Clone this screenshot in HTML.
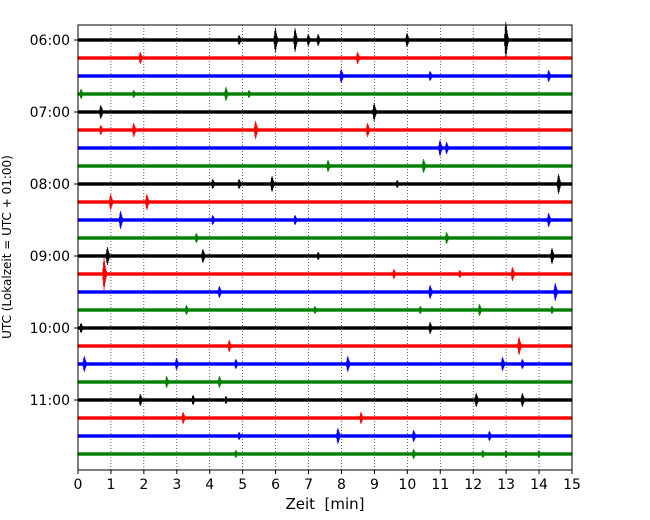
<!DOCTYPE html>
<html><head><meta charset="utf-8"><style>
body{margin:0;background:#fff;}
svg{display:block;font-family:"DejaVu Sans","Liberation Sans",sans-serif;}
</style></head><body>
<svg id="chart" width="650" height="520">
<g id="grid"></g>
<g id="traces"></g>
<rect x="78" y="25" width="494" height="445" fill="none" stroke="#000" stroke-width="1"/>
<g id="xticks"></g>
<g id="yticks"></g>
<text x="325" y="509" font-size="15" text-anchor="middle" style="white-space:pre">Zeit  [min]</text>
<text transform="translate(11,247) rotate(-90)" font-size="12" text-anchor="middle">UTC (Lokalzeit = UTC + 01:00)</text>
</svg>
<script>
const xTicks=[0,1,2,3,4,5,6,7,8,9,10,11,12,13,14,15];
const yTickLabels=["06:00","07:00","08:00","09:00","10:00","11:00"];
const yTickRows=[0,4,8,12,16,20];
const traceColors=["#000","#f00","#00f","#008000"];
const traceCount=24;
// events: [traceIndex, minute, amplitude(px)]
const eventTrace=[0,0,0,0,0,0,0,1,1,2,2,2,3,3,3,3,4,4,5,5,5,5,6,6,7,7,8,8,8,8,8,9,9,10,10,10,10,11,11,12,12,12,12,13,13,13,13,14,14,14,15,15,15,15,15,16,16,17,17,18,18,18,18,18,18,19,19,20,20,20,20,20,21,21,22,22,22,22,23,23,23,23,23];
const eventMinute=[4.9,6.0,6.6,7.0,7.3,10.0,13.0,1.9,8.5,8.0,10.7,14.3,0.1,1.7,4.5,5.2,0.7,9.0,0.7,1.7,5.4,8.8,11.0,11.2,7.6,10.5,4.1,4.9,5.9,9.7,14.6,1.0,2.1,1.3,4.1,6.6,14.3,3.6,11.2,0.9,3.8,7.3,14.4,0.8,9.6,11.6,13.2,4.3,10.7,14.5,3.3,7.2,10.4,12.2,14.4,0.1,10.7,4.6,13.4,0.2,3.0,4.8,8.2,12.9,13.5,2.7,4.3,1.9,3.5,4.5,12.1,13.5,3.2,8.6,4.9,7.9,10.2,12.5,4.8,10.2,12.3,13.0,14.0];
const eventAmp=[5,12,12,6,6,7,18,6,6,7,5,6,5,4,7,4,7,9,5,7,9,7,8,6,6,7,5,5,8,4,10,8,8,9,5,5,7,5,6,9,7,4,8,16,5,4,7,6,7,9,5,4,4,6,4,5,6,6,9,8,6,5,8,7,5,6,6,6,5,4,7,7,6,6,4,8,6,5,4,5,4,4,4];
const X0=78,X1=572,Xmax=15;
const xs=m=>X0+(X1-X0)*m/Xmax;
const ys=i=>40+18*i;
const NS="http://www.w3.org/2000/svg";
function mk(t,a,p){const e=document.createElementNS(NS,t);for(const k in a)e.setAttribute(k,a[k]);p.appendChild(e);return e;}
const grid=document.getElementById('grid');
for(let k=1;k<xTicks.length-1;k++){
 const l=mk('line',{x1:xs(xTicks[k]),x2:xs(xTicks[k]),y1:25,y2:470,stroke:'#000','stroke-width':0.6,'stroke-dasharray':'1,2'},grid);
 
 
}
const tr=document.getElementById('traces');
for(let i=0;i<traceCount;i++){
 const r=mk('rect',{x:X0,y:ys(i)-1.7,width:X1-X0,height:3.4,fill:traceColors[i%4]},tr);
 
 
}
const pattern=[0.35,0.75,1,0.8,0.55,0.35,0.2];
for(let j=0;j<eventTrace.length;j++){
 const i=eventTrace[j],cx=xs(eventMinute[j]),cy=ys(i),a=eventAmp[j];
 let d='';
 pattern.forEach((p,k)=>{const x=cx-1.5+k*0.6;d+=`M${x},${cy-p*a} L${x},${cy+p*a} `;});
 const p=mk('path',{d:d,fill:'none',stroke:traceColors[i%4],'stroke-width':0.8},tr);
 
 
}
const xt=document.getElementById('xticks');
xTicks.forEach(v=>{
 mk('line',{x1:xs(v),x2:xs(v),y1:470,y2:474,stroke:'#000'},xt);
 const t=mk('text',{x:xs(v),y:489,'font-size':14,'text-anchor':'middle'},xt);t.textContent=v;
 
 
});
const yt=document.getElementById('yticks');
yTickLabels.forEach((s,k)=>{
 const y=ys(yTickRows[k]);
 mk('line',{x1:74,x2:78,y1:y,y2:y,stroke:'#000'},yt);
 const t=mk('text',{x:70,y:y+5,'font-size':14,'text-anchor':'end'},yt);t.textContent=s;
 
 
});
</script>
</body></html>
